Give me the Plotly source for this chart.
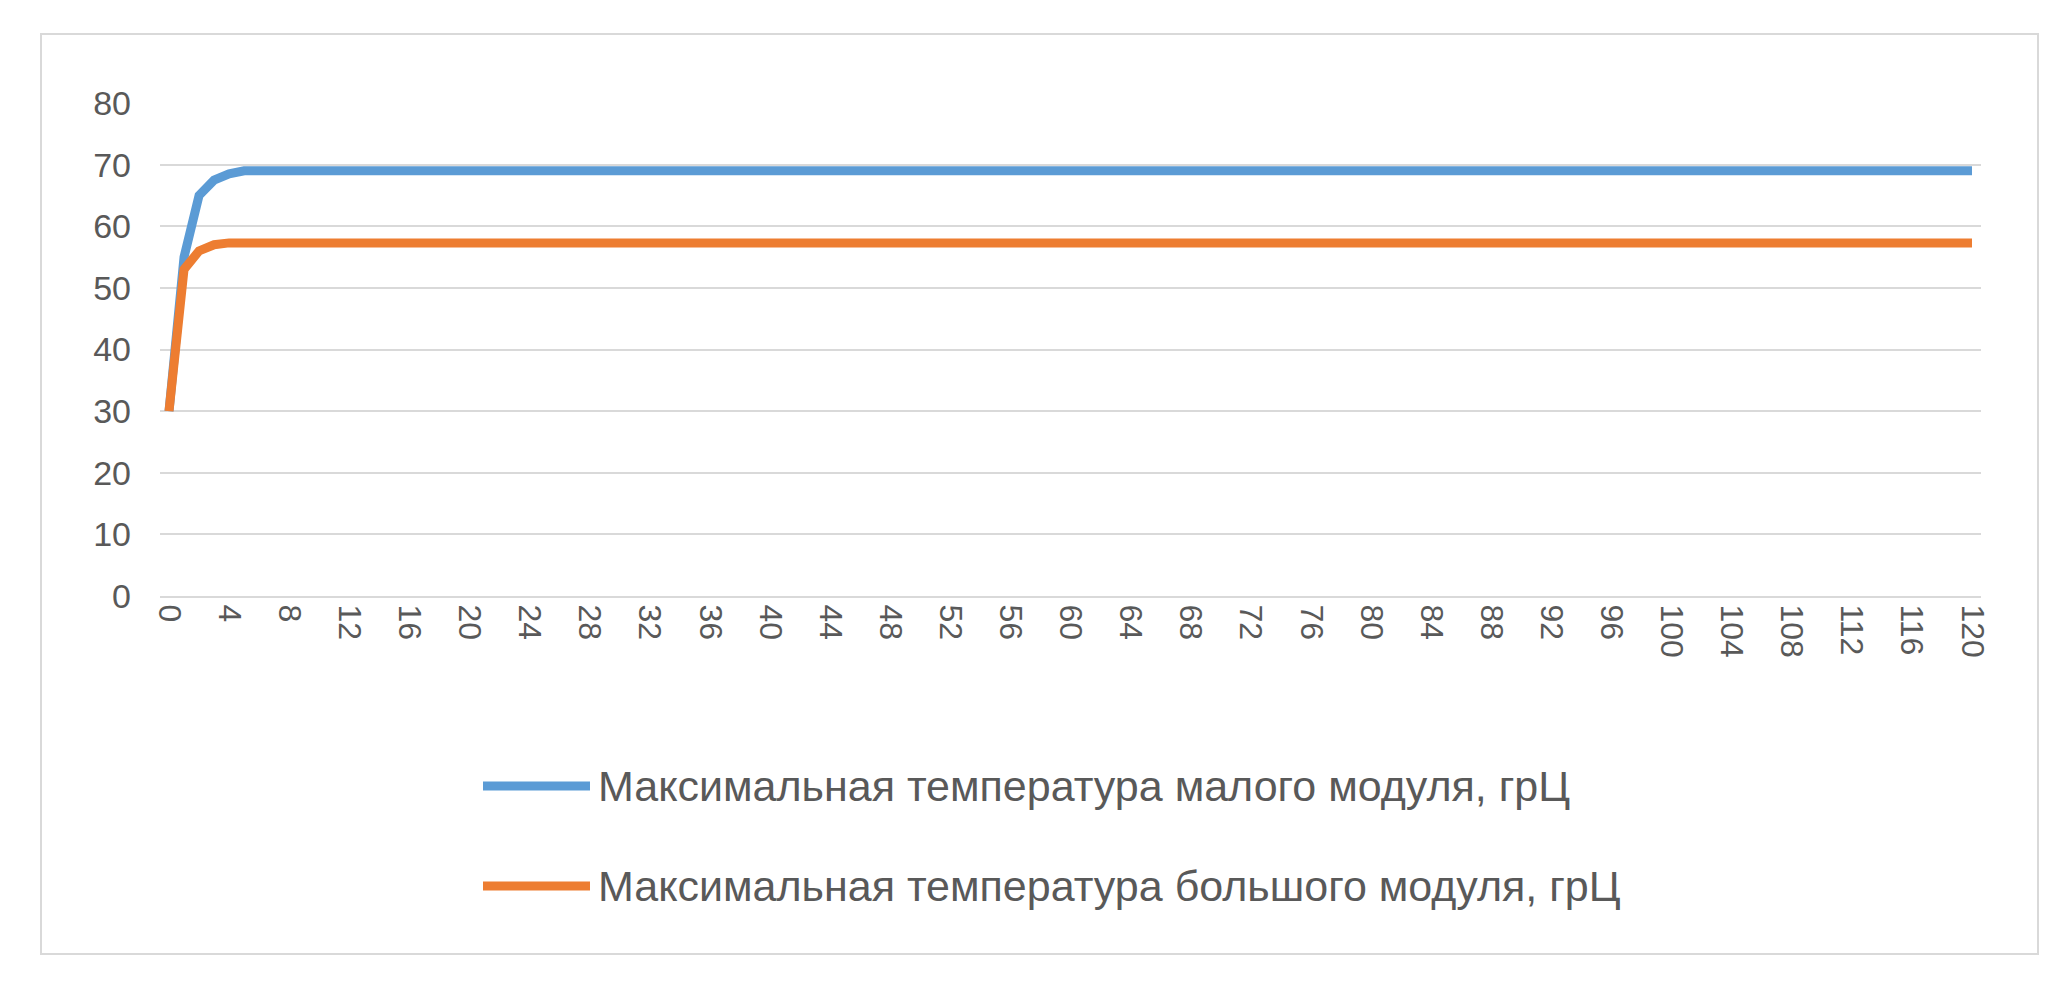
import plotly.graph_objects as go

x = list(range(0, 121))
small = [30, 55, 65, 67.5, 68.5, 69] + [69] * 115
large = [30, 53, 56, 57, 57.3] + [57.3] * 116
names = ["Максимальная температура малого модуля, грЦ",
         "Максимальная температура большого модуля, грЦ"]
colors = ["#5B9BD5", "#ED7D31"]
xticks = list(range(0, 121, 4))
yticks = list(range(0, 81, 10))

fig = go.Figure()
for ys, c, n in zip([small, large], colors, names):
    fig.add_trace(go.Scatter(x=x, y=ys, mode="lines", name=n,
                             line=dict(color=c, width=9), showlegend=False))

F = "Liberation Sans Narrow, Liberation Sans, Arial"
fig.update_layout(
    width=2067, height=994, paper_bgcolor="white", plot_bgcolor="white",
    margin=dict(l=152, r=94, t=95, b=406),
    font=dict(family=F, color="#595959", size=32),
    xaxis=dict(range=[-0.6, 120.6], tickvals=xticks, ticktext=[str(t) for t in xticks],
               tickangle=90, showgrid=False, showline=True, linecolor="#d9d9d9",
               linewidth=2, ticks="", zeroline=False, tickfont=dict(size=32)),
    yaxis=dict(range=[0, 80], tickvals=yticks, gridcolor="#d9d9d9", gridwidth=2,
               showline=False, zeroline=False, ticks="", tickfont=dict(size=34),
               ticklabelstandoff=28),
)
fig.add_shape(type="rect", xref="paper", yref="paper", x0=(33 - 152) / 1821, x1=(2030 - 152) / 1821,
              y0=(588 - 946) / 493, y1=(588 - 26) / 493,
              line=dict(color="#d9d9d9", width=2), layer="below")
for i, (c, n) in enumerate(zip(colors, names)):
    yy = (588 - (778 + i * 100)) / 493
    fig.add_shape(type="line", xref="paper", yref="paper",
                  x0=(475 - 152) / 1821, x1=(582 - 152) / 1821, y0=yy, y1=yy,
                  line=dict(color=c, width=9))
    fig.add_annotation(xref="paper", yref="paper", x=(588 - 152) / 1821, y=yy,
                       text=n, showarrow=False, xanchor="left", yanchor="middle",
                       font=dict(size=43, color="#595959", family=F))
fig.write_html("out.html")
